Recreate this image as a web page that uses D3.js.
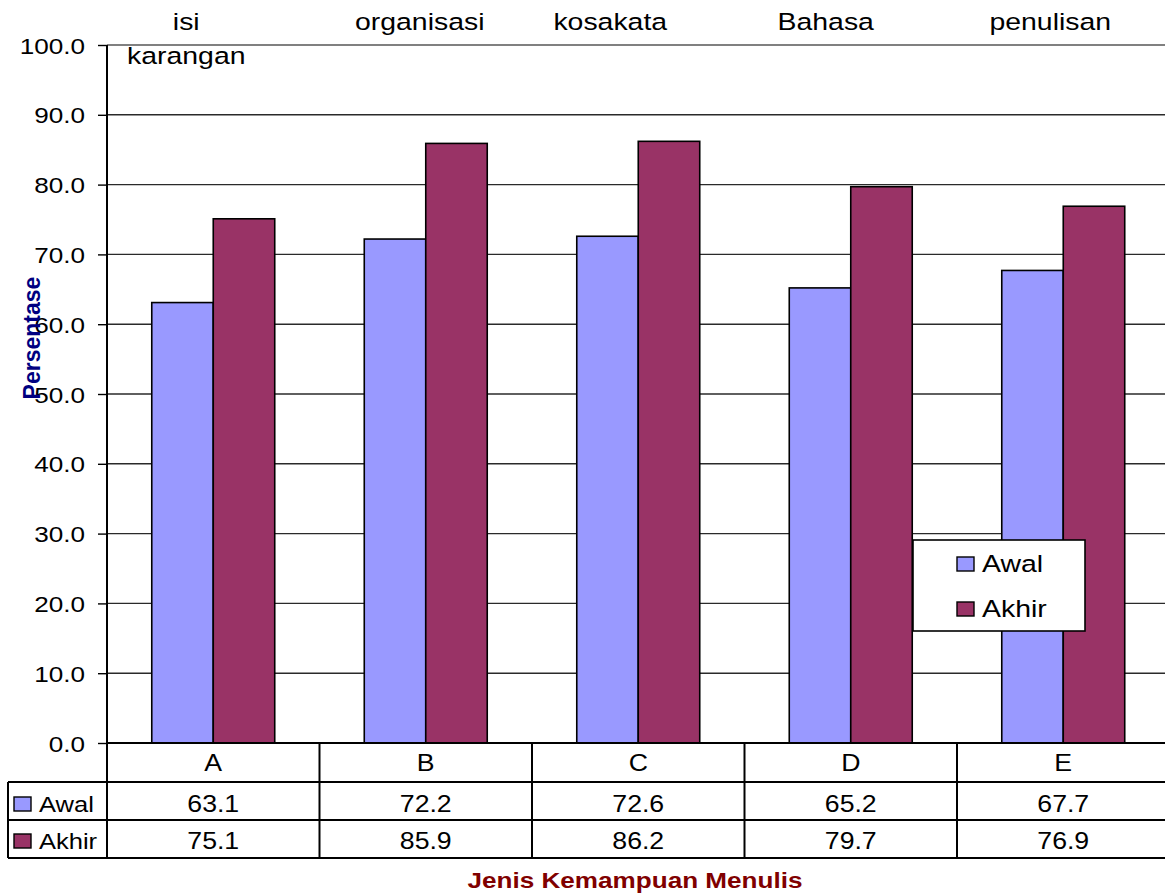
<!DOCTYPE html>
<html><head><meta charset="utf-8">
<script src="https://cdn.jsdelivr.net/npm/d3@7"></script>
<style>html,body{margin:0;padding:0;background:#fff;overflow:hidden}svg{display:block}text{font-family:"Liberation Sans",Arial,sans-serif}</style>
</head><body>
<script>
const categories = ["A","B","C","D","E"];
const topLabels = [["isi","karangan"],["organisasi"],["kosakata"],["Bahasa"],["penulisan"]];
const seriesNames = ["Awal","Akhir"];
const awal = [63.1,72.2,72.6,65.2,67.7];
const akhir = [75.1,85.9,86.2,79.7,76.9];
const yTicks = [0,10,20,30,40,50,60,70,80,90,100];
const yTitle = "Persentase";
const xTitle = "Jenis Kemampuan Menulis";

(function(){
const W=1165,H=893, SX=1.16;
const colors = {Awal:"#9999FF", Akhir:"#993366"};
const svg = d3.select("body").append("svg").attr("width",W).attr("height",H);
svg.append("rect").attr("width",W).attr("height",H).attr("fill","#fff");

const pLeft=107, pRight=1169.5, pTop=45, pBottom=743;
const x0 = d3.scaleBand().domain(categories).range([pLeft,pRight]).padding(0);
const x1 = d3.scaleBand().domain(seriesNames).range([0,x0.bandwidth()]).paddingInner(0).paddingOuter(0.728);
const y = d3.scaleLinear().domain([0,100]).range([pBottom,pTop]);

function txt(g, x, yy, s, size, anchor, opts={}) {
  return g.append("text").attr("transform",`translate(${x},${yy}) scale(${SX},1)`)
    .attr("font-size",size).attr("text-anchor",anchor||"start").attr("fill",opts.fill||"#000")
    .attr("font-weight",opts.bold?"bold":"normal").text(s);
}

// gridlines
svg.append("g").selectAll("line").data(yTicks.filter(d=>d>0)).join("line")
  .attr("x1",pLeft).attr("x2",W).attr("y1",d=>y(d)).attr("y2",d=>y(d))
  .attr("stroke",d=>d===100?"#808080":"#2a2a2a").attr("stroke-width",d=>d===100?2:1.4);

// bars
const rows = categories.map((c,i)=>({c, Awal:awal[i], Akhir:akhir[i]}));
const gb = svg.append("g");
rows.forEach(r=>{
  seriesNames.forEach(s=>{
    gb.append("rect").attr("x",x0(r.c)+x1(s)).attr("width",x1.bandwidth())
      .attr("y",y(r[s])).attr("height",y(0)-y(r[s]))
      .attr("fill",colors[s]).attr("stroke","#000").attr("stroke-width",1.6);
  });
});

// y axis
const yAxis = d3.axisLeft(y).tickValues(yTicks).tickSize(9).tickFormat(d=>d3.format(".1f")(d));
const ga = svg.append("g").attr("transform",`translate(${pLeft},0)`).call(yAxis);
ga.select(".domain").remove();
ga.selectAll(".tick line").attr("stroke","#000").attr("stroke-width",1.4);
ga.selectAll(".tick text").remove();
yTicks.forEach(d=>txt(svg, 85, y(d)+8.5, d3.format(".1f")(d), 22.5, "end"));
svg.append("line").attr("x1",pLeft).attr("x2",pLeft).attr("y1",pTop).attr("y2",858).attr("stroke","#000").attr("stroke-width",2);

// data table
const tg = svg.append("g");
const ln = (a,b,c,d)=>tg.append("line").attr("x1",a).attr("y1",b).attr("x2",c).attr("y2",d).attr("stroke","#000").attr("stroke-width",2);
ln(pLeft,743,W,743);
ln(8,782,W,782); ln(8,820,W,820); ln(8,858,W,858);
ln(8,782,8,858);
categories.forEach((c,i)=>{ if(i>0) ln(x0(c),743,x0(c),858); });
categories.forEach((c,i)=>{
  const cx = x0(c)+x0.bandwidth()/2;
  txt(tg, cx, 771, c, 23, "middle");
  txt(tg, cx, 812, d3.format(".1f")(awal[i]), 23, "middle");
  txt(tg, cx, 849, d3.format(".1f")(akhir[i]), 23, "middle");
});
seriesNames.forEach((s,i)=>{
  const by = [812,849][i];
  tg.append("rect").attr("x",14).attr("y",by-15).attr("width",17).attr("height",14)
    .attr("fill",colors[s]).attr("stroke","#000").attr("stroke-width",1.4);
  txt(tg, 39, by, s, 22, "start");
});

// top category labels
const labelOffsets = [-27,-6,-28,-25,-13];
topLabels.forEach((ls,i)=>{
  const cx = x0(categories[i])+x0.bandwidth()/2+labelOffsets[i];
  ls.forEach((l,j)=>txt(svg, cx, 30+j*34, l, 24.5, "middle"));
});

// legend
const lg = svg.append("g");
lg.append("rect").attr("x",913).attr("y",540).attr("width",172).attr("height",91)
  .attr("fill","#fff").attr("stroke","#000").attr("stroke-width",1.6);
seriesNames.forEach((s,i)=>{
  const by = [572,617][i];
  lg.append("rect").attr("x",957).attr("y",by-15).attr("width",17).attr("height",14)
    .attr("fill",colors[s]).attr("stroke","#000").attr("stroke-width",1.4);
  txt(lg, 982, by, s, 24.5, "start");
});

// titles
svg.append("text").attr("transform",`translate(40,338) rotate(-90)`).attr("text-anchor","middle")
  .attr("font-size",23).attr("font-weight","bold").attr("fill","#000080").text(yTitle);
txt(svg, 635, 888, xTitle, 22.5, "middle", {bold:true, fill:"#800000"});
})();
</script>
</body></html>
